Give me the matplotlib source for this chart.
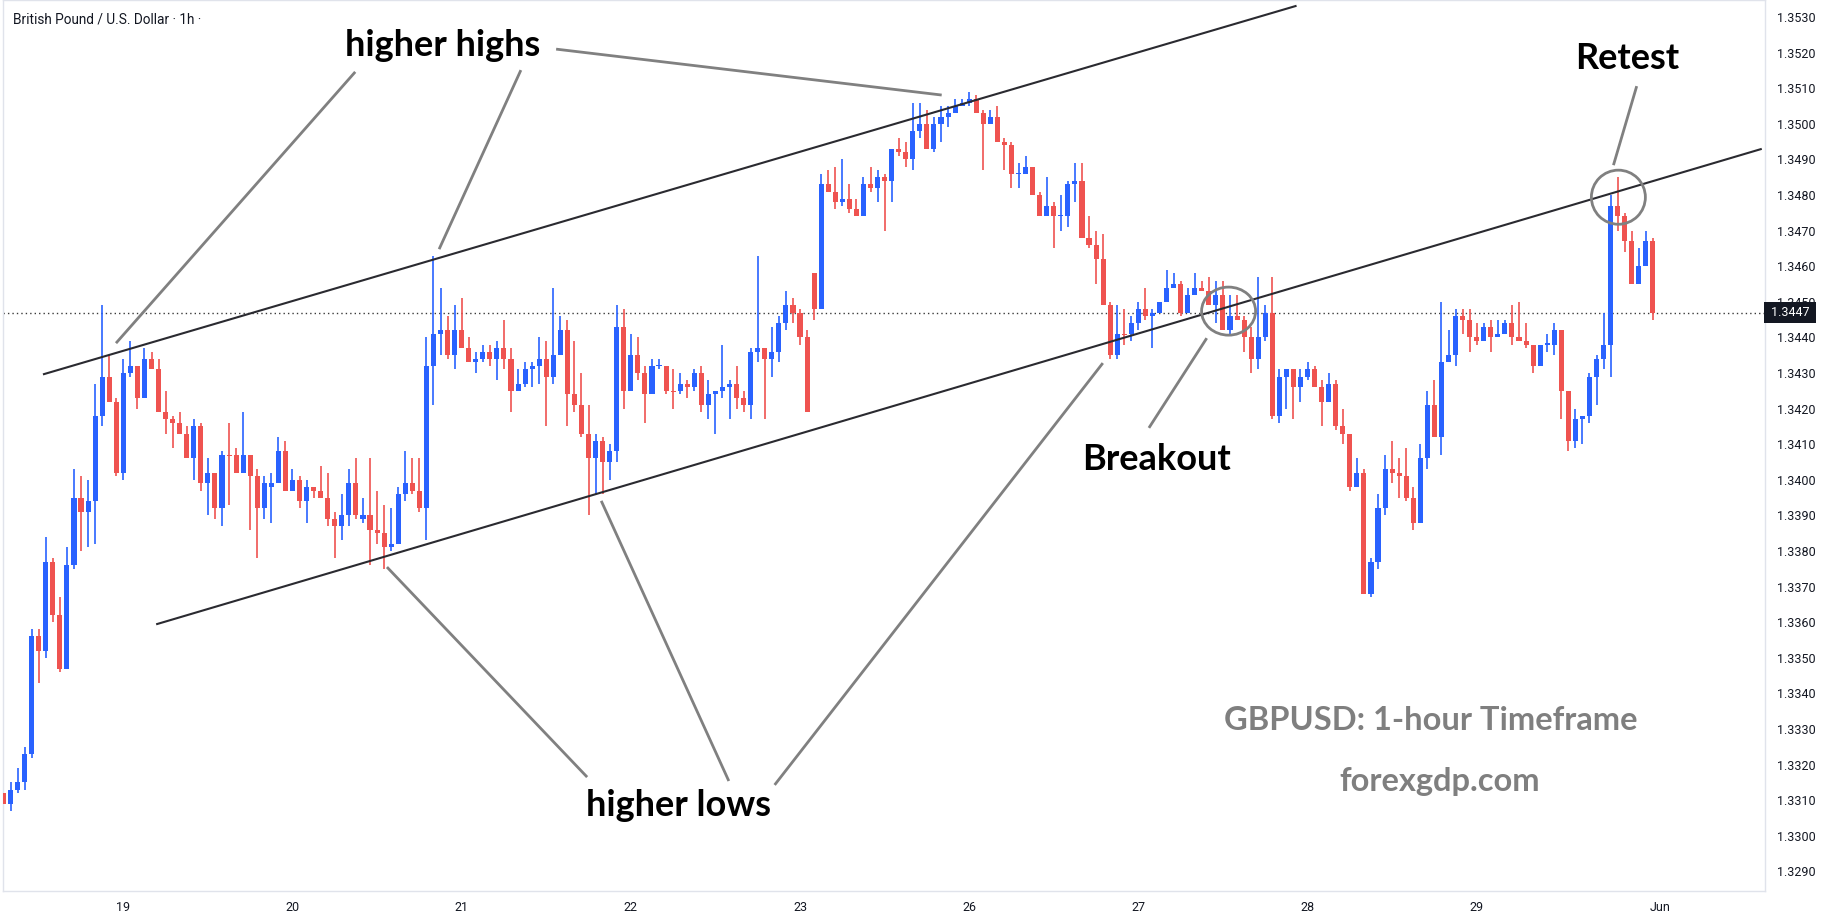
import matplotlib
matplotlib.use("Agg")
import matplotlib.pyplot as plt
from matplotlib.patches import Ellipse
from matplotlib.transforms import blended_transform_factory

# GBPUSD 1h candles
opens = [
    1.3312, 1.3309, 1.3313, 1.3315, 1.3323, 1.3356, 1.3352, 1.3377, 1.3362, 1.3347,
    1.3376, 1.3395, 1.3391, 1.3394, 1.3418, 1.3429, 1.3422, 1.3402, 1.3430, 1.3432,
    1.3423, 1.3434, 1.3431, 1.3419, 1.3417, 1.3416, 1.3413, 1.3406, 1.3415, 1.3399,
    1.3402, 1.3392, 1.3407, 1.3407, 1.3402, 1.3407, 1.3401, 1.3392, 1.3398, 1.3399,
    1.3408, 1.3397, 1.3400, 1.3394, 1.3398, 1.3397, 1.3395, 1.3389, 1.3387, 1.3390,
    1.3399, 1.3389, 1.3390, 1.3386, 1.3385, 1.3381, 1.3382, 1.3396, 1.3399, 1.3397,
    1.3392, 1.3432, 1.3441, 1.3442, 1.3435, 1.3442, 1.3437, 1.3433, 1.3434, 1.3436,
    1.3434, 1.3437, 1.3434, 1.3425, 1.3427, 1.3431, 1.3432, 1.3434, 1.3429, 1.3435,
    1.3442, 1.3424, 1.3421, 1.3413, 1.3406, 1.3411, 1.3405, 1.3408, 1.3443, 1.3425,
    1.3435, 1.3430, 1.3424, 1.3432, 1.3432, 1.3425, 1.3425, 1.3427, 1.3426, 1.3430,
    1.3421, 1.3424, 1.3425, 1.3426, 1.3427, 1.3423, 1.3421, 1.3436, 1.3437, 1.3434,
    1.3436, 1.3444, 1.3449, 1.3447, 1.3440, 1.3458, 1.3448, 1.3483, 1.3481, 1.3478,
    1.3479, 1.3476, 1.3474, 1.3483, 1.3482, 1.3485, 1.3484, 1.3493, 1.3492, 1.3490,
    1.3498, 1.3500, 1.3493, 1.3500, 1.3502, 1.3503, 1.3505, 1.3506, 1.3507, 1.3503,
    1.3500, 1.3502, 1.3495, 1.3494, 1.3486, 1.3486, 1.3488, 1.3480, 1.3474, 1.3477,
    1.3474, 1.3474, 1.3483, 1.3484, 1.3468, 1.3466, 1.3462, 1.3449, 1.3435, 1.3441,
    1.3441, 1.3444, 1.3448, 1.3446, 1.3447, 1.3450, 1.3454, 1.3455, 1.3447, 1.3452,
    1.3454, 1.3453, 1.3449, 1.3452, 1.3442, 1.3446, 1.3445, 1.3440, 1.3434, 1.3440,
    1.3447, 1.3418, 1.3429, 1.3431, 1.3426, 1.3429, 1.3431, 1.3426, 1.3422, 1.3427,
    1.3415, 1.3413, 1.3398, 1.3402, 1.3368, 1.3377, 1.3392, 1.3403, 1.3402, 1.3401,
    1.3395, 1.3388, 1.3406, 1.3421, 1.3412, 1.3433, 1.3435, 1.3446, 1.3445, 1.3440,
    1.3439, 1.3443, 1.3440, 1.3441, 1.3444, 1.3440, 1.3439, 1.3438, 1.3432, 1.3438,
    1.3438, 1.3442, 1.3425, 1.3411, 1.3417, 1.3418, 1.3429, 1.3434, 1.3438, 1.3477,
    1.3474, 1.3467, 1.3455, 1.3460, 1.3467,
]
highs = [
    1.3313, 1.3315, 1.3319, 1.3325, 1.3358, 1.3358, 1.3384, 1.3378, 1.3367, 1.3381,
    1.3403, 1.3401, 1.3400, 1.3427, 1.3449, 1.3435, 1.3423, 1.3434, 1.3439, 1.3432,
    1.3437, 1.3436, 1.3434, 1.3425, 1.3418, 1.3419, 1.3415, 1.3417, 1.3416, 1.3406,
    1.3402, 1.3408, 1.3416, 1.3409, 1.3419, 1.3407, 1.3403, 1.3401, 1.3402, 1.3412,
    1.3411, 1.3403, 1.3401, 1.3400, 1.3398, 1.3404, 1.3402, 1.3391, 1.3396, 1.3403,
    1.3406, 1.3395, 1.3406, 1.3397, 1.3393, 1.3392, 1.3398, 1.3408, 1.3406, 1.3406,
    1.3440, 1.3463, 1.3454, 1.3446, 1.3449, 1.3451, 1.3440, 1.3436, 1.3438, 1.3438,
    1.3439, 1.3445, 1.3437, 1.3431, 1.3433, 1.3433, 1.3440, 1.3439, 1.3454, 1.3446,
    1.3445, 1.3439, 1.3430, 1.3421, 1.3413, 1.3412, 1.3410, 1.3449, 1.3448, 1.3441,
    1.3440, 1.3432, 1.3434, 1.3434, 1.3432, 1.3431, 1.3430, 1.3428, 1.3431, 1.3432,
    1.3428, 1.3425, 1.3438, 1.3428, 1.3432, 1.3425, 1.3437, 1.3463, 1.3437, 1.3443,
    1.3446, 1.3453, 1.3451, 1.3448, 1.3442, 1.3458, 1.3486, 1.3487, 1.3488, 1.3490,
    1.3483, 1.3479, 1.3485, 1.3488, 1.3487, 1.3486, 1.3493, 1.3496, 1.3495, 1.3506,
    1.3506, 1.3504, 1.3502, 1.3505, 1.3505, 1.3507, 1.3507, 1.3509, 1.3508, 1.3504,
    1.3504, 1.3505, 1.3496, 1.3495, 1.3489, 1.3491, 1.3488, 1.3481, 1.3485, 1.3478,
    1.3480, 1.3484, 1.3489, 1.3489, 1.3474, 1.3470, 1.3469, 1.3450, 1.3449, 1.3448,
    1.3446, 1.3450, 1.3454, 1.3448, 1.3450, 1.3459, 1.3458, 1.3456, 1.3454, 1.3458,
    1.3456, 1.3457, 1.3456, 1.3456, 1.3452, 1.3452, 1.3446, 1.3443, 1.3457, 1.3449,
    1.3457, 1.3431, 1.3431, 1.3431, 1.3431, 1.3433, 1.3432, 1.3428, 1.3430, 1.3428,
    1.3420, 1.3413, 1.3406, 1.3403, 1.3378, 1.3396, 1.3407, 1.3411, 1.3406, 1.3409,
    1.3398, 1.3410, 1.3425, 1.3428, 1.3450, 1.3442, 1.3448, 1.3448, 1.3448, 1.3444,
    1.3444, 1.3445, 1.3445, 1.3445, 1.3449, 1.3450, 1.3444, 1.3438, 1.3438, 1.3441,
    1.3444, 1.3442, 1.3425, 1.3420, 1.3418, 1.3430, 1.3435, 1.3447, 1.3480, 1.3485,
    1.3475, 1.3470, 1.3465, 1.3470, 1.3468,
]
lows = [
    1.3307, 1.3307, 1.3312, 1.3313, 1.3322, 1.3343, 1.3350, 1.3360, 1.3346, 1.3347,
    1.3375, 1.3380, 1.3381, 1.3382, 1.3415, 1.3422, 1.3401, 1.3400, 1.3429, 1.3420,
    1.3423, 1.3431, 1.3419, 1.3413, 1.3409, 1.3413, 1.3406, 1.3400, 1.3397, 1.3390,
    1.3389, 1.3387, 1.3393, 1.3402, 1.3402, 1.3386, 1.3378, 1.3389, 1.3388, 1.3399,
    1.3397, 1.3397, 1.3392, 1.3388, 1.3395, 1.3395, 1.3387, 1.3378, 1.3383, 1.3387,
    1.3389, 1.3388, 1.3376, 1.3382, 1.3375, 1.3380, 1.3382, 1.3394, 1.3396, 1.3391,
    1.3383, 1.3421, 1.3435, 1.3434, 1.3431, 1.3437, 1.3433, 1.3430, 1.3433, 1.3432,
    1.3428, 1.3431, 1.3419, 1.3425, 1.3426, 1.3426, 1.3427, 1.3415, 1.3427, 1.3435,
    1.3415, 1.3419, 1.3412, 1.3390, 1.3396, 1.3396, 1.3400, 1.3405, 1.3420, 1.3425,
    1.3428, 1.3416, 1.3424, 1.3431, 1.3424, 1.3420, 1.3424, 1.3423, 1.3425, 1.3419,
    1.3417, 1.3413, 1.3423, 1.3417, 1.3420, 1.3419, 1.3417, 1.3433, 1.3417, 1.3429,
    1.3433, 1.3442, 1.3444, 1.3438, 1.3419, 1.3445, 1.3448, 1.3481, 1.3476, 1.3477,
    1.3475, 1.3474, 1.3474, 1.3481, 1.3478, 1.3470, 1.3478, 1.3491, 1.3488, 1.3487,
    1.3496, 1.3493, 1.3492, 1.3495, 1.3499, 1.3503, 1.3505, 1.3505, 1.3503, 1.3487,
    1.3500, 1.3495, 1.3487, 1.3482, 1.3482, 1.3486, 1.3480, 1.3474, 1.3474, 1.3465,
    1.3470, 1.3471, 1.3478, 1.3468, 1.3465, 1.3455, 1.3449, 1.3434, 1.3434, 1.3438,
    1.3439, 1.3442, 1.3445, 1.3437, 1.3447, 1.3450, 1.3454, 1.3446, 1.3447, 1.3452,
    1.3453, 1.3449, 1.3444, 1.3442, 1.3441, 1.3445, 1.3436, 1.3430, 1.3431, 1.3439,
    1.3417, 1.3416, 1.3420, 1.3417, 1.3422, 1.3428, 1.3426, 1.3415, 1.3422, 1.3414,
    1.3410, 1.3397, 1.3398, 1.3368, 1.3367, 1.3375, 1.3390, 1.3399, 1.3395, 1.3394,
    1.3386, 1.3388, 1.3403, 1.3412, 1.3407, 1.3433, 1.3432, 1.3441, 1.3436, 1.3438,
    1.3439, 1.3436, 1.3440, 1.3441, 1.3438, 1.3439, 1.3437, 1.3430, 1.3432, 1.3436,
    1.3435, 1.3417, 1.3408, 1.3409, 1.3410, 1.3416, 1.3421, 1.3431, 1.3429, 1.3470,
    1.3464, 1.3455, 1.3455, 1.3460, 1.3445,
]
closes = [
    1.3309, 1.3313, 1.3315, 1.3323, 1.3356, 1.3352, 1.3377, 1.3362, 1.3347, 1.3376,
    1.3395, 1.3391, 1.3394, 1.3418, 1.3429, 1.3422, 1.3402, 1.3430, 1.3432, 1.3423,
    1.3434, 1.3431, 1.3419, 1.3417, 1.3416, 1.3413, 1.3406, 1.3415, 1.3399, 1.3402,
    1.3392, 1.3407, 1.34068, 1.3402, 1.3407, 1.3401, 1.3392, 1.3399, 1.3399, 1.3408,
    1.3397, 1.3400, 1.3394, 1.3398, 1.3397, 1.3395, 1.3389, 1.3387, 1.3390, 1.3399,
    1.3390, 1.3390, 1.3386, 1.3385, 1.3381, 1.3382, 1.3396, 1.3399, 1.3397, 1.3392,
    1.3432, 1.3441, 1.3442, 1.3435, 1.3442, 1.3437, 1.3433, 1.3434, 1.3436, 1.3434,
    1.3437, 1.3434, 1.3425, 1.3427, 1.3431, 1.3432, 1.3434, 1.3429, 1.3435, 1.3442,
    1.3424, 1.3421, 1.3413, 1.3406, 1.3411, 1.3405, 1.3408, 1.3443, 1.3425, 1.3435,
    1.3430, 1.3424, 1.3432, 1.34322, 1.3425, 1.34248, 1.3427, 1.3426, 1.3430, 1.3421,
    1.3424, 1.3425, 1.3426, 1.3427, 1.3423, 1.3421, 1.3436, 1.3437, 1.3434, 1.3436,
    1.3444, 1.3449, 1.3447, 1.3440, 1.3419, 1.3448, 1.3483, 1.3481, 1.3478, 1.3479,
    1.3476, 1.3474, 1.3483, 1.3482, 1.3485, 1.3484, 1.3493, 1.3492, 1.3490, 1.3498,
    1.3500, 1.3493, 1.3500, 1.3502, 1.3503, 1.3505, 1.3506, 1.3507, 1.3503, 1.3500,
    1.3502, 1.3495, 1.3494, 1.3486, 1.34862, 1.3488, 1.3480, 1.3474, 1.3477, 1.3474,
    1.34742, 1.3483, 1.3484, 1.3468, 1.3466, 1.3462, 1.3449, 1.3435, 1.3441, 1.34408,
    1.3444, 1.3448, 1.3446, 1.3447, 1.3450, 1.3454, 1.3455, 1.3447, 1.3452, 1.3454,
    1.3453, 1.3449, 1.3452, 1.3442, 1.3446, 1.3445, 1.3440, 1.3434, 1.3440, 1.3447,
    1.3418, 1.3429, 1.3431, 1.3426, 1.3429, 1.3431, 1.3426, 1.3422, 1.3427, 1.3415,
    1.3413, 1.3398, 1.3402, 1.3368, 1.3377, 1.3392, 1.3403, 1.3402, 1.3401, 1.3395,
    1.3388, 1.3406, 1.3421, 1.3412, 1.3433, 1.3435, 1.3446, 1.3445, 1.3440, 1.3439,
    1.3443, 1.3440, 1.3441, 1.3444, 1.3440, 1.3439, 1.3438, 1.3432, 1.3438, 1.34385,
    1.3442, 1.3425, 1.3411, 1.3417, 1.3418, 1.3429, 1.3434, 1.3438, 1.3477, 1.3474,
    1.3467, 1.3455, 1.3460, 1.3467, 1.3447,
]

day_ticks = [17, 41, 65, 89, 113, 137, 161, 185, 209, 235]
day_labels = ["19", "20", "21", "22", "23", "26", "27", "28", "29", "Jun"]
price_ticks = [1.3290 + 0.001 * k for k in range(25)]
last_price = 1.3447

# channel lines (bar index, price)
upper_x = [5.74, 183.3]
upper_y = [1.34297, 1.35331]
lower_x = [21.8, 249.3]
lower_y = [1.33595, 1.34929]

# pointer lines: (x0, y0, x1, y1)
hh_pointers = [(49.9, 1.35146, 15.96, 1.34384),
               (73.4, 1.35151, 61.8, 1.34648),
               (78.4, 1.35210, 133.1, 1.35081)]
hl_pointers = [(82.8, 1.33165, 54.4, 1.33755),
               (102.9, 1.33154, 84.8, 1.33941),
               (109.4, 1.33143, 155.96, 1.34328)]
breakout_pointer = (162.5, 1.34146, 170.7, 1.34398)
retest_pointer = (231.7, 1.35106, 228.4, 1.34884)

UP = "#2962ff"
DOWN = "#ef5350"
GRAY = "#808080"
ANNOT_FONT = ["Lato", "DejaVu Sans"]
UI_FONT = ["Roboto", "DejaVu Sans"]


def plot_candles(ax):
    x = list(range(len(opens)))
    colors = [UP if c >= o else DOWN for o, c in zip(opens, closes)]
    bottoms = [min(o, c) for o, c in zip(opens, closes)]
    heights = [max(abs(c - o), 0.00003) for o, c in zip(opens, closes)]
    ax.vlines(x, lows, highs, colors=colors, linewidth=1.2, zorder=2)
    ax.bar(x, heights, bottom=bottoms, width=0.72, color=colors,
           linewidth=0, zorder=3)


def plot_annotations(ax):
    ax.plot(upper_x, upper_y, color="#2a2a30", lw=1.5, zorder=4)
    ax.plot(lower_x, lower_y, color="#2a2a30", lw=1.5, zorder=4)

    for x0, y0, x1, y1 in hh_pointers + hl_pointers + [breakout_pointer, retest_pointer]:
        ax.plot([x0, x1], [y0, y1], color=GRAY, lw=2.0, zorder=5,
                solid_capstyle="butt")

    ax.add_patch(Ellipse((229.1, 1.34794), 7.66, 0.00152, fill=False,
                         ec=GRAY, lw=2.0, zorder=5))
    ax.add_patch(Ellipse((173.8, 1.34474), 7.66, 0.00135, fill=False,
                         ec=GRAY, lw=2.0, zorder=5))

    kw = dict(fontsize=26, fontweight="bold", family=ANNOT_FONT,
              ha="center", va="center", color="black", zorder=6)
    ax.text(62.3, 1.35219, "higher highs", **kw)
    ax.text(95.7, 1.33084, "higher lows", **kw)
    ax.text(163.6, 1.34058, "Breakout", **kw)
    ax.text(230.4, 1.35185, "Retest", **kw)

    kw2 = dict(fontsize=23.5, fontweight="bold", family=ANNOT_FONT,
               ha="center", va="center", color="#7f7f7f", zorder=6)
    ax.text(202.5, 1.33323, "GBPUSD: 1-hour Timeframe", **kw2)
    ax.text(203.8, 1.33154, "forexgdp.com", **kw2)


def main():
    fig = plt.figure(figsize=(18.23, 9.22), dpi=100)
    fig.patch.set_facecolor("white")
    ax = fig.add_axes([3 / 1823, 31 / 922, 1762 / 1823, 891 / 922])

    plot_candles(ax)
    plot_annotations(ax)

    ax.axhline(last_price, color="#3a3a3a", lw=1.0, ls=(0, (1, 2.2)), zorder=1)

    ax.set_xlim(-0.07, 249.9)
    ax.set_ylim(1.32845, 1.35348)

    ax.yaxis.tick_right()
    ax.set_yticks(price_ticks)
    ax.set_yticklabels(["{:.4f}".format(p) for p in price_ticks],
                       family=UI_FONT, fontsize=9, color="#131722")
    ax.set_xticks(day_ticks)
    ax.set_xticklabels(day_labels, family=UI_FONT, fontsize=9, color="#131722")
    ax.tick_params(axis="y", length=0, pad=9)
    ax.tick_params(axis="x", length=0, pad=7)
    for side in ["top", "left", "right", "bottom"]:
        ax.spines[side].set_color("#e0e3eb")
        ax.spines[side].set_linewidth(1)

    # last price tag on the price scale
    trans = blended_transform_factory(ax.transAxes, ax.transData)
    ax.text(1.0015, last_price, " 1.3447 ", transform=trans, ha="left", va="center",
            family=UI_FONT, fontsize=9, color="white", zorder=10, clip_on=False,
            bbox=dict(boxstyle="square,pad=0.3", fc="#131722", ec="none"))

    fig.text(12.7 / 1823, 1 - 19 / 922, "British Pound / U.S. Dollar \u00b7 1h \u00b7",
             family=UI_FONT, fontsize=9.8, color="#131722", ha="left", va="center")

    fig.savefig("out.png", dpi=100)
    plt.close(fig)


main()
